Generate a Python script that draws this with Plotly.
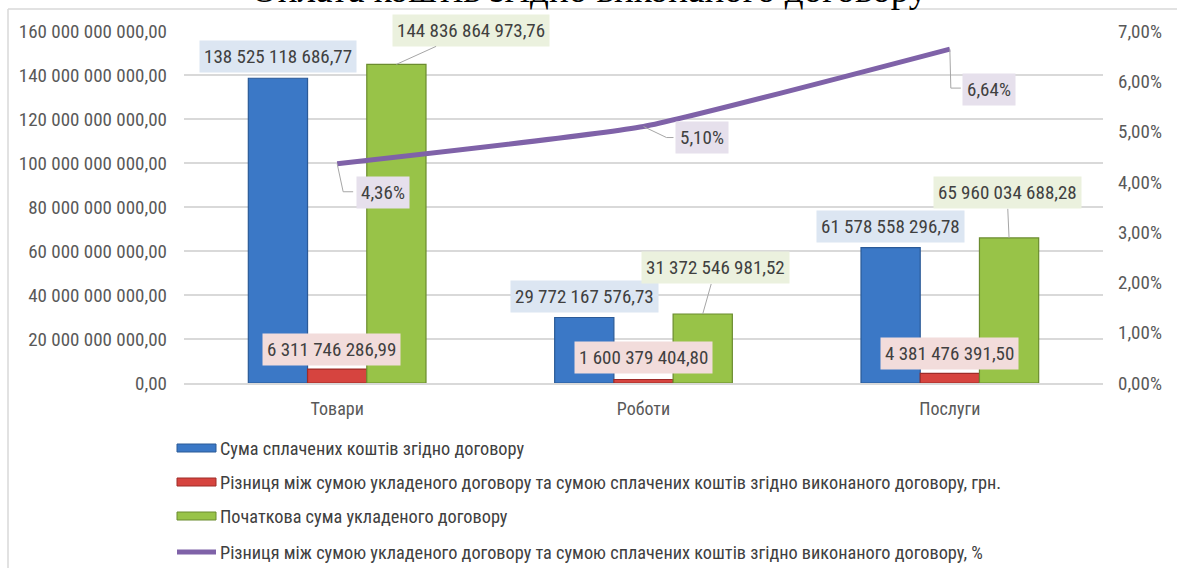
import plotly.graph_objects as go

# ---------------- data ----------------
categories = ["Товари", "Роботи", "Послуги"]
paid = [138525118686.77, 29772167576.73, 61578558296.78]
diff_uah = [6311746286.99, 1600379404.80, 4381476391.50]
initial = [144836864973.76, 31372546981.52, 65960034688.28]
diff_pct = [0.0436, 0.0510, 0.0664]

series_names = [
    "Сума сплачених коштів згідно договору",
    "Різниця між сумою укладеного договору та сумою сплачених коштів згідно виконаного договору, грн.",
    "Початкова сума укладеного договору",
    "Різниця між сумою укладеного договору та сумою сплачених коштів згідно виконаного договору, %",
]
title_text = "Оплата коштів згідно виконаного договору"

# ---------------- style ----------------
FONT = "Liberation Sans Narrow, Arial Narrow, Roboto Condensed, sans-serif"
TXT = "#404040"
AX = "#595959"
GRID = "#D9D9D9"
BLUE, BLUE_D, BLUE_BG = "#3B78C6", "#2B5A97", "#DCE6F2"
RED, RED_D, RED_BG = "#D6443F", "#9E2C29", "#F2DCDB"
GREEN, GREEN_D, GREEN_BG = "#98C348", "#6B8C2F", "#EBF1DE"
PURPLE, PURPLE_BG = "#7F62A8", "#E6E0EC"
LEADER = "#A6A6A6"

W, H = 1177, 568
L, R, T, B = 184, 74, 31, 185
PW, PH = W - L - R, H - T - B
BARGAP = 0.42
BW = (1 - BARGAP) / 3  # width of one bar in category units


def px_x(X):
    return (X - L) / PW


def px_y(Y):
    return (H - B - Y) / PH


def fmt_num(v):
    return f"{v:,.2f}".replace(",", " ").replace(".", ",")


def fmt_pct(p):
    return f"{p * 100:.2f}%".replace(".", ",")


fig = go.Figure()
for vals, col, dcol in [(paid, BLUE, BLUE_D), (diff_uah, RED, RED_D), (initial, GREEN, GREEN_D)]:
    fig.add_trace(go.Bar(x=categories, y=vals, marker=dict(color=col, line=dict(color=dcol, width=1.2)),
                         showlegend=False, hoverinfo="skip"))
fig.add_trace(go.Scatter(x=categories, y=diff_pct, yaxis="y2", mode="lines",
                         line=dict(color=PURPLE, width=5, shape="spline", smoothing=0.4),
                         showlegend=False, hoverinfo="skip"))

ann = []
shapes = []
lab_font = dict(family=FONT, size=19, color=TXT)

# blue labels (outside end, above bar)
for i, v in enumerate(paid):
    ann.append(dict(x=i - BW, y=v, xref="x", yref="y", text=fmt_num(v), showarrow=False,
                    yanchor="bottom", yshift=5, bgcolor=BLUE_BG, borderpad=4, font=lab_font))

# red labels (above bar, small shifts)
red_xshift = [-6, 0, 0]
red_yshift = [3, 5, 3]
for i, v in enumerate(diff_uah):
    ann.append(dict(x=i, y=v, xref="x", yref="y", text=fmt_num(v), showarrow=False,
                    yanchor="bottom", xshift=red_xshift[i], yshift=red_yshift[i],
                    bgcolor=RED_BG, borderpad=4, font=lab_font))

# green labels with straight leader lines
green_ax = [75, 13, -2]
green_ay = [-34, -46, -45]
for i, v in enumerate(initial):
    ann.append(dict(x=i + BW, y=v, xref="x", yref="y", text=fmt_num(v), showarrow=True,
                    arrowhead=0, arrowwidth=1, arrowcolor=LEADER, ax=green_ax[i], ay=green_ay[i],
                    standoff=0, startstandoff=0,
                    bgcolor=GREEN_BG, borderpad=4, font=lab_font))

# purple labels with elbow leader lines
pct_box = [(45.5, 28.5), (58.5, 10.5), (39.5, 40)]
pct_leader = [[(0, 0), (6, 28), (16, 28)], [(0, 0), (23, 11), (30, 11)], [(0, 0), (1, 39), (11, 39)]]
for i, p in enumerate(diff_pct):
    bx, by = pct_box[i]
    ann.append(dict(x=i, y=p, xref="x", yref="y2", text=fmt_pct(p), showarrow=False,
                    xshift=bx, yshift=-by, bgcolor=PURPLE_BG, borderpad=4, font=lab_font))
    pts = pct_leader[i]
    path = "M" + " L".join(f"{dx},{-dy}" for dx, dy in pts)
    shapes.append(dict(type="path", xref="x", yref="y2", xsizemode="pixel", ysizemode="pixel",
                       xanchor=i, yanchor=p, path=path, line=dict(color=LEADER, width=1)))

# custom legend
leg_rows = [448, 482, 516, 552]
leg_cols = [(BLUE, BLUE_D), (RED, RED_D), (GREEN, GREEN_D)]
for k in range(3):
    c, d = leg_cols[k]
    shapes.append(dict(type="rect", xref="paper", yref="paper",
                       x0=px_x(177), x1=px_x(216), y0=px_y(leg_rows[k] + 4), y1=px_y(leg_rows[k] - 4),
                       fillcolor=c, line=dict(color=d, width=1)))
shapes.append(dict(type="line", xref="paper", yref="paper", x0=px_x(177), x1=px_x(216),
                   y0=px_y(leg_rows[3]), y1=px_y(leg_rows[3]), line=dict(color=PURPLE, width=5)))
for k in range(4):
    ann.append(dict(x=px_x(218), y=px_y(leg_rows[k]), xref="paper", yref="paper", text=series_names[k],
                    showarrow=False, xanchor="left", yanchor="middle",
                    font=dict(family=FONT, size=18.3, color=TXT)))

# frame lines
shapes.append(dict(type="line", xref="paper", yref="paper", x0=px_x(8), x1=px_x(W),
                   y0=px_y(9), y1=px_y(9), line=dict(color=GRID, width=1.5)))
shapes.append(dict(type="line", xref="paper", yref="paper", x0=px_x(8), x1=px_x(8),
                   y0=px_y(9), y1=px_y(H), line=dict(color=GRID, width=1.5)))

# cut-off title (document text above the chart)
ann.append(dict(x=px_x(589), y=px_y(12), xref="paper", yref="paper", text=title_text, showarrow=False,
                xanchor="center", yanchor="bottom",
                font=dict(family="Liberation Serif, Times New Roman, serif", size=37, color="#000000")))

fig.update_layout(
    width=W, height=H, margin=dict(l=L, r=R, t=T, b=B, autoexpand=False),
    plot_bgcolor="white", paper_bgcolor="white", separators=", ",
    barmode="group", bargap=BARGAP, bargroupgap=0, showlegend=False,
    font=dict(family=FONT, color=AX),
    annotations=ann, shapes=shapes,
    xaxis=dict(type="category", showgrid=False, showline=True, linecolor=GRID, linewidth=1.5,
               ticks="", tickfont=dict(family=FONT, size=18, color=AX), ticklabelstandoff=9),
    yaxis=dict(range=[0, 160e9], dtick=20e9, tickformat=",.2f", showgrid=True, gridcolor=GRID,
               gridwidth=1.5, zeroline=False, showline=False, ticks="",
               tickfont=dict(family=FONT, size=19, color=AX), ticklabelstandoff=16),
    yaxis2=dict(range=[0, 0.07], dtick=0.01, tickformat=".2%", overlaying="y", side="right",
                showgrid=False, zeroline=False, showline=False, ticks="",
                tickfont=dict(family=FONT, size=19, color=AX), ticklabelstandoff=14),
)

fig.write_html("out.html", config={"displayModeBar": False},
               post_script="document.body.style.margin='0';document.body.style.overflow='hidden';")
